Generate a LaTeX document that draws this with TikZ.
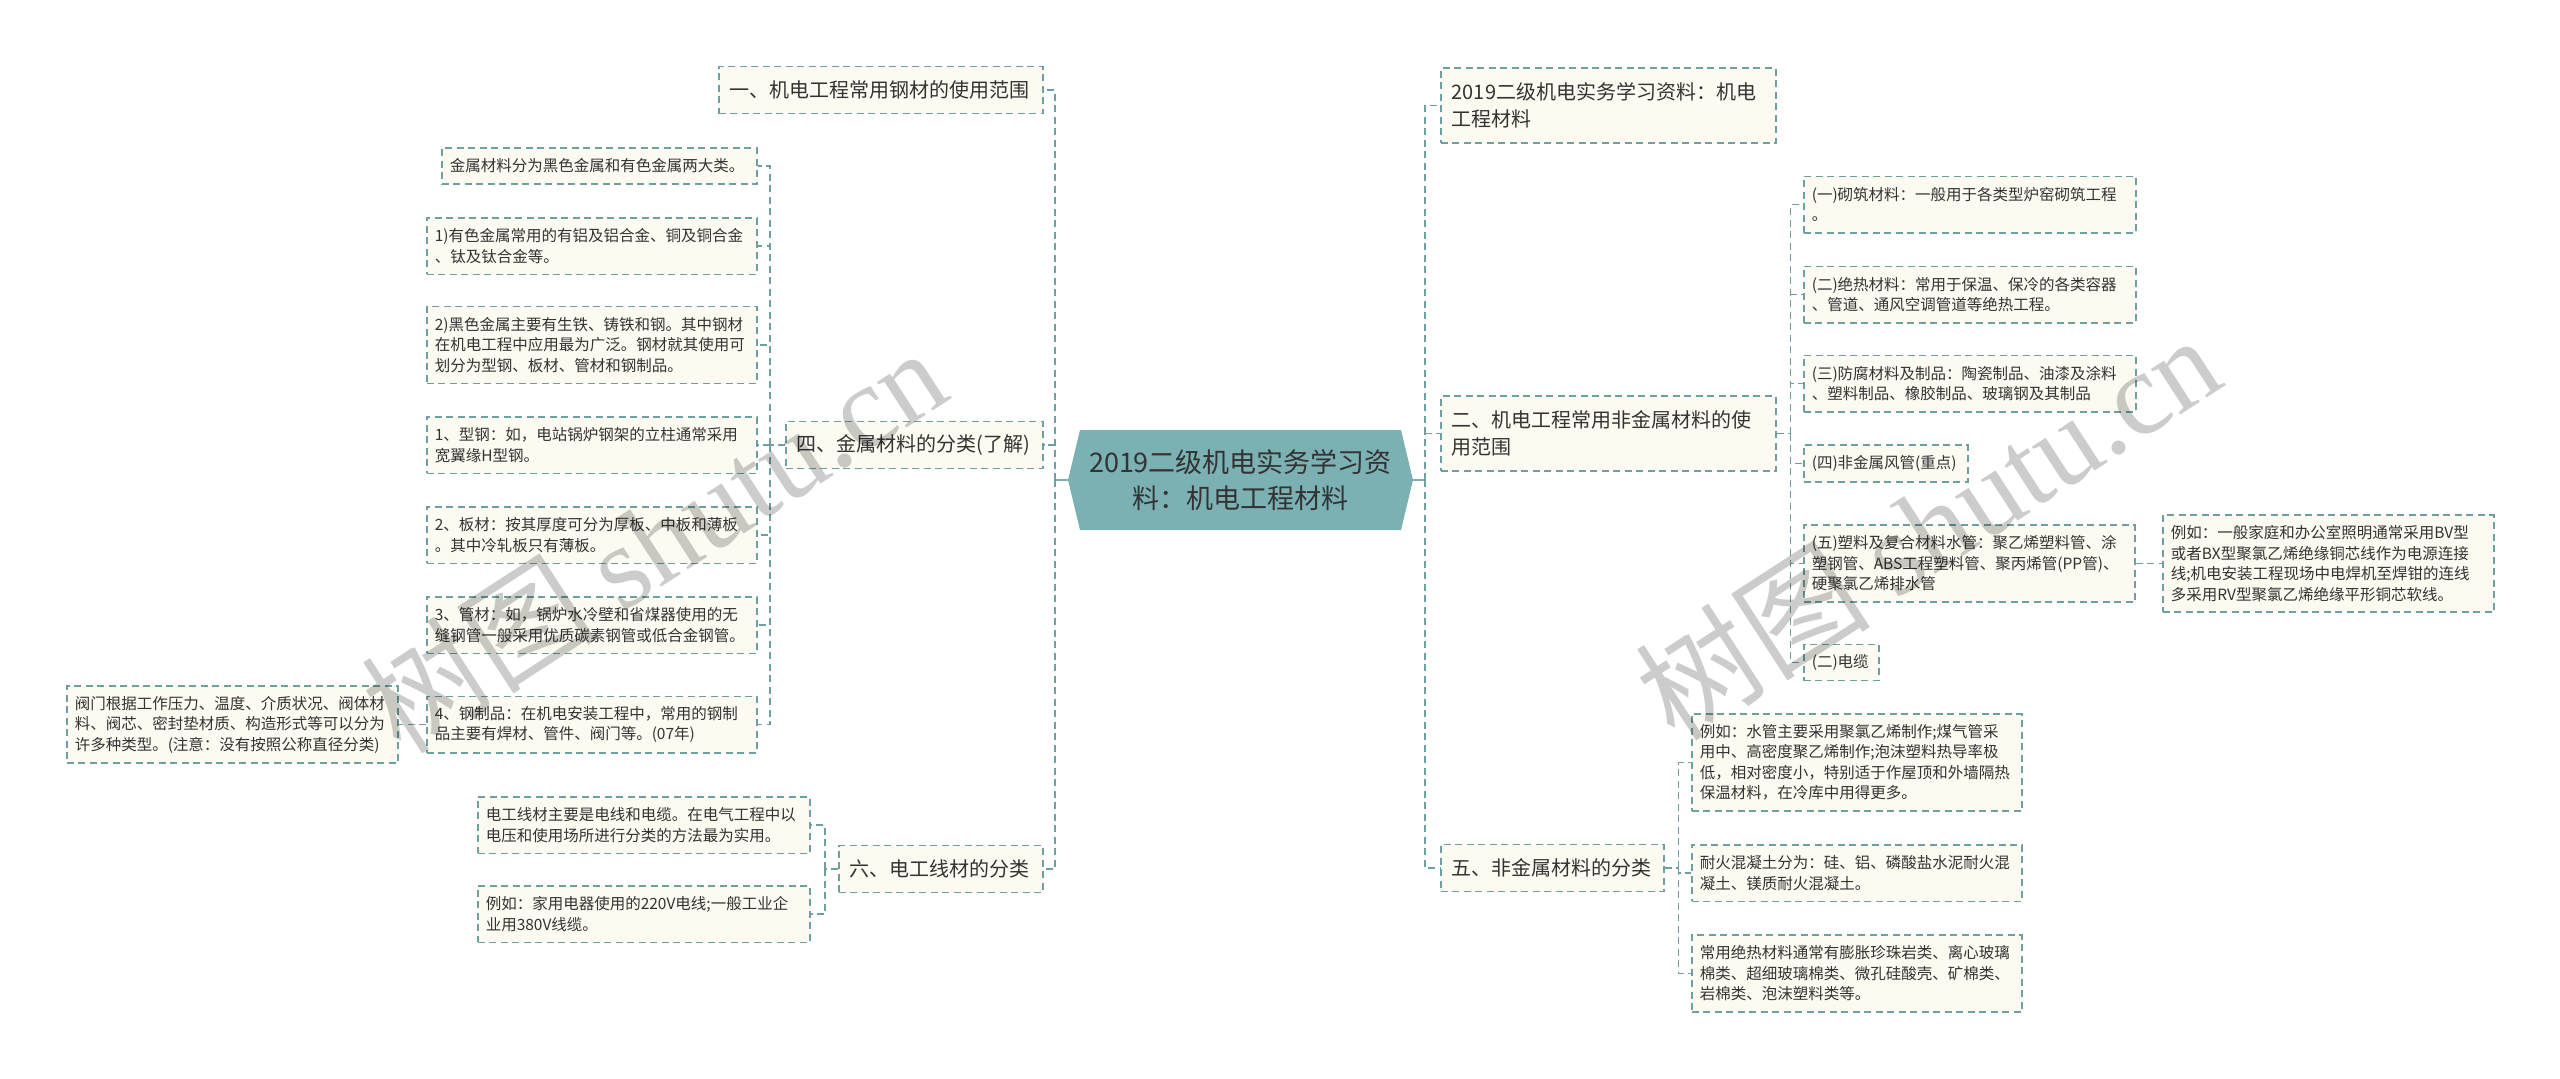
\documentclass[tikz,border=0pt]{standalone}
\usepackage{fontspec}
\setmainfont{Noto Sans CJK SC}
\newfontfamily\wmfont{Liberation Serif}
\usepackage{tikz}
\usetikzlibrary{positioning}
\definecolor{linec}{HTML}{6FA0A1}
\definecolor{boxfill}{HTML}{FCFAF1}
\definecolor{hubfill}{HTML}{7BB1B3}
\definecolor{inkc}{HTML}{333333}
\tikzstyle{leaf} = [draw=linec, fill=boxfill, line width=1.5pt, dash pattern=on 7pt off 4.5pt, inner xsep=8pt, inner ysep=2pt, align=left, text=inkc, anchor=west, font=\fontsize{15.5pt}{20.5pt}\selectfont]
\tikzstyle{topic} = [leaf, inner xsep=11pt, font=\fontsize{20pt}{27pt}\selectfont]
\tikzstyle{hub} = [align=center, text=inkc, minimum width=345pt, minimum height=100pt, font=\fontsize{27pt}{36.5pt}\selectfont]
\tikzstyle{link} = [draw=linec, line width=1.5pt, dash pattern=on 7pt off 4.5pt]
\tikzstyle{stub} = [draw=hubfill, line width=2pt]
\tikzstyle{wm} = [text=black, text opacity=0.2, rotate=33, font=\fontsize{118pt}{118pt}\selectfont]

\begin{document}
\begin{tikzpicture}[x=1pt, y=-1pt]
\useasboundingbox (0,0) rectangle (2560,1079);

\fill[hubfill] (1068,480) -- (1080,430) -- (1401,430) -- (1413,480) -- (1401,530) -- (1080,530) -- cycle;
\node (hub) [hub] at (1240.5,480) {2019二级机电实务学习资\\料：机电工程材料};

\node (l1) [topic, minimum height=47pt, text width=302pt] at (718,90) {一、机电工程常用钢材的使用范围};
\node (l4) [topic, minimum height=47pt, text width=235pt] at (785,445) {四、金属材料的分类(了解)};
\node (l6) [topic, minimum height=47pt, text width=182pt] at (838,869) {六、电工线材的分类};
\node (r0) [topic, minimum height=75pt, text width=313pt] at (1440,105.5) {2019二级机电实务学习资料：机电\\工程材料};
\node (r2) [topic, minimum height=75pt, text width=313pt] at (1440,433.5) {二、机电工程常用非金属材料的使\\用范围};
\node (r5) [topic, minimum height=47pt, text width=201pt] at (1440,868) {五、非金属材料的分类};

\node (a1) [leaf, minimum height=36pt, text width=299pt] at (441,166) {金属材料分为黑色金属和有色金属两大类。};
\node (a2) [leaf, minimum height=56.5pt, text width=314pt] at (426,246) {1)有色金属常用的有铝及铝合金、铜及铜合金\\、钛及钛合金等。};
\node (a3) [leaf, minimum height=77pt, text width=314pt] at (426,345) {2)黑色金属主要有生铁、铸铁和钢。其中钢材\\在机电工程中应用最为广泛。钢材就其使用可\\划分为型钢、板材、管材和钢制品。};
\node (a4) [leaf, minimum height=56.5pt, text width=314pt] at (426,445) {1、型钢：如，电站锅炉钢架的立柱通常采用\\宽翼缘H型钢。};
\node (a5) [leaf, minimum height=56.5pt, text width=314pt] at (426,535) {2、板材：按其厚度可分为厚板、中板和薄板\\。其中冷轧板只有薄板。};
\node (a6) [leaf, minimum height=56.5pt, text width=314pt] at (426,625) {3、管材：如，锅炉水冷壁和省煤器使用的无\\缝钢管一般采用优质碳素钢管或低合金钢管。};
\node (a7) [leaf, minimum height=56.5pt, text width=314pt] at (426,724.5) {4、钢制品：在机电安装工程中，常用的钢制\\品主要有焊材、管件、阀门等。(07年)};
\node (a8) [leaf, minimum height=77pt, text width=315pt] at (66,724.5) {阀门根据工作压力、温度、介质状况、阀体材\\料、阀芯、密封垫材质、构造形式等可以分为\\许多种类型。(注意：没有按照公称直径分类)};

\node (b1) [leaf, minimum height=56.5pt, text width=316pt] at (477,825) {电工线材主要是电线和电缆。在电气工程中以\\电压和使用场所进行分类的方法最为实用。};
\node (b2) [leaf, minimum height=56.5pt, text width=316pt] at (477,914) {例如：家用电器使用的220V电线;一般工业企\\业用380V线缆。};

\node (c1) [leaf, minimum height=56.5pt, text width=316pt] at (1803,204.5) {(一)砌筑材料：一般用于各类型炉窑砌筑工程\\。};
\node (c2) [leaf, minimum height=56.5pt, text width=316pt] at (1803,294.5) {(二)绝热材料：常用于保温、保冷的各类容器\\、管道、通风空调管道等绝热工程。};
\node (c3) [leaf, minimum height=56.5pt, text width=316pt] at (1803,383.5) {(三)防腐材料及制品：陶瓷制品、油漆及涂料\\、塑料制品、橡胶制品、玻璃钢及其制品};
\node (c4) [leaf, minimum height=37pt, text width=148pt] at (1803,463.5) {(四)非金属风管(重点)};
\node (c5) [leaf, minimum height=77pt, text width=315pt] at (1803,563.5) {(五)塑料及复合材料水管：聚乙烯塑料管、涂\\塑钢管、ABS工程塑料管、聚丙烯管(PP管)、\\硬聚氯乙烯排水管};
\node (c6) [leaf, minimum height=97pt, text width=315pt] at (2162,563.5) {例如：一般家庭和办公室照明通常采用BV型\\或者BX型聚氯乙烯绝缘铜芯线作为电源连接\\线;机电安装工程现场中电焊机至焊钳的连线\\多采用RV型聚氯乙烯绝缘平形铜芯软线。};
\node (c7) [leaf, minimum height=36pt, text width=59pt] at (1803,662.5) {(二)电缆};

\node (d1) [leaf, minimum height=97pt, text width=314pt] at (1691,762.5) {例如：水管主要采用聚氯乙烯制作;煤气管采\\用中、高密度聚乙烯制作;泡沫塑料热导率极\\低，相对密度小，特别适于作屋顶和外墙隔热\\保温材料，在冷库中用得更多。};
\node (d2) [leaf, minimum height=56.5pt, text width=314pt] at (1691,873) {耐火混凝土分为：硅、铝、磷酸盐水泥耐火混\\凝土、镁质耐火混凝土。};
\node (d3) [leaf, minimum height=77pt, text width=314pt] at (1691,973.5) {常用绝热材料通常有膨胀珍珠岩类、离心玻璃\\棉类、超细玻璃棉类、微孔硅酸壳、矿棉类、\\岩棉类、泡沫塑料类等。};

\draw[stub] (hub.west) -- ++(-13,0) coordinate (lspine);
\foreach \t in {l1,l4,l6}
  \draw[link] (lspine) |- (\t.east);
\draw[link] (l4.west) -- ++(-15,0) coordinate (aspine);
\foreach \t in {a1,a2,a3,a4,a5,a6,a7}
  \draw[link] (aspine) |- (\t.east);
\draw[link] (a7.west) -- (a8.east);
\draw[link] (l6.west) -- ++(-13,0) coordinate (bspine);
\foreach \t in {b1,b2}
  \draw[link] (bspine) |- (\t.east);

\draw[stub] (hub.east) -- ++(12,0) coordinate (rspine);
\foreach \t in {r0,r2,r5}
  \draw[link] (rspine) |- (\t.west);
\draw[link] (r2.east) -- ++(14,0) coordinate (cspine);
\foreach \t in {c1,c2,c3,c4,c5,c7}
  \draw[link] (cspine) |- (\t.west);
\draw[link] (c5.east) -- (c6.west);
\draw[link] (r5.east) -- ++(14,0) coordinate (dspine);
\foreach \t in {d1,d2,d3}
  \draw[link] (dspine) |- (\t.west);

\node (wm1) [wm] at (653,539) {树图 {\wmfont shutu.cn}};
\node (wm2) [wm] at (1927,526) {树图 {\wmfont shutu.cn}};
\end{tikzpicture}
\end{document}
